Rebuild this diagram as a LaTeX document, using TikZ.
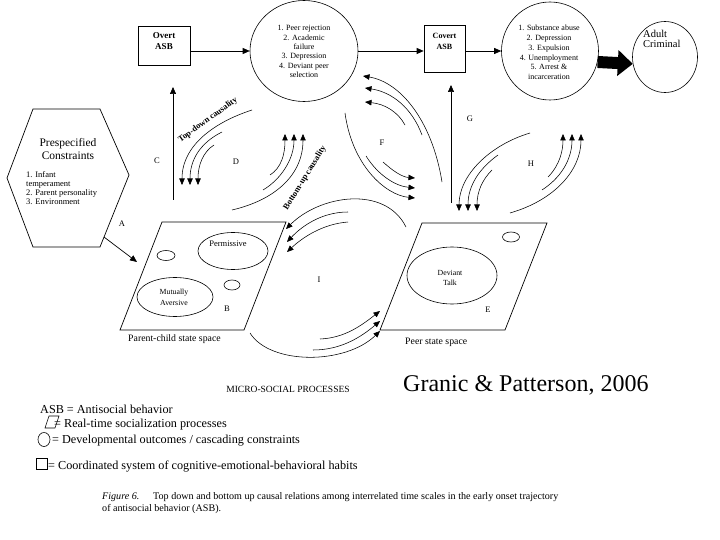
\documentclass[tikz,border=0pt]{standalone}
\usepackage{fontspec}
\setmainfont{Liberation Serif}
\usetikzlibrary{arrows.meta,shapes.geometric}
\begin{document}
\begin{tikzpicture}[x=1pt,y=-1pt,
  conn/.style={line width=0.7pt,-{Triangle[length=7pt,width=6pt]}},
  arcar/.style={line width=0.55pt,-{Triangle[length=6.5pt,width=5.5pt]}},
  boxn/.style={draw,line width=0.7pt,inner sep=0pt},
  oval/.style={draw,ellipse,line width=0.6pt,inner sep=0pt},
  txt/.style={inner sep=0pt,align=center},
  lbl/.style={inner sep=0pt,font=\fontsize{8.5}{10}\selectfont},
  legend/.style={inner sep=0pt,anchor=base west,font=\fontsize{12.2}{14}\selectfont},
  capt/.style={inner sep=0pt,anchor=base west,font=\fontsize{10.1}{12}\selectfont},
  causal/.style={inner sep=0pt,font=\bfseries\fontsize{8.5}{9}\selectfont},
  shapeline/.style={line width=0.7pt}
]
\useasboundingbox[fill=white] (0,0) rectangle (720,540);

% ---- top row
\node[boxn,minimum width=52pt,minimum height=39pt] (overt) at (164,45.5) {};
\node[txt,font=\bfseries\fontsize{9}{11}\selectfont] (overtT) at (164,41) {Overt\\ASB};
\node[boxn,minimum width=41pt,minimum height=47pt] (covert) at (444.5,48.5) {};
\node[txt,font=\bfseries\fontsize{8}{10.5}\selectfont] (covertT) at (444.5,41.5) {Covert\\ASB};
\node[oval,minimum width=108pt,minimum height=101pt] (c1) at (304,51) {};
\node[txt,font=\fontsize{8}{9.4}\selectfont] (c1T) at (304,51.5) {1. Peer rejection\\2. Academic\\failure\\3. Depression\\4. Deviant peer\\selection};
\node[oval,minimum width=97pt,minimum height=98pt] (c2) at (550,51) {};
\node[txt,font=\fontsize{8}{9.8}\selectfont] (c2T) at (549,52.5) {1. Substance abuse\\2. Depression\\3. Expulsion\\4. Unemployment\\5. Arrest \&\\incarceration};
\node[oval,minimum width=65pt,minimum height=71pt] (adult) at (665,57) {};
\node[inner sep=0pt,align=left,anchor=north west,font=\fontsize{10.5}{10.5}\selectfont] (adultT) at (643,30) {Adult\\Criminal};

\draw[conn] (overt.east |- c1.west) -- (c1.west);
\draw[conn] (c1.east) -- (covert.west |- c1.east);
\draw[conn] (covert.east |- c2.west) -- (c2.west);
\draw[line width=12pt,-{Triangle[length=15pt,width=25pt]}] (c2.-13) -- (adult.192);

% ---- vertical arrows
\path (173,200) coordinate (cb) (173,87) coordinate (ct)
      (451,203) coordinate (gb) (451,85) coordinate (gt);
\draw[conn] (cb) -- (ct);
\draw[conn] (gb) -- (gt);

% ---- hexagon
\draw[shapeline] (33,109) -- (100,109) -- (129,175) -- (100,247) -- (33,247) -- (7,178) -- cycle;
\node[txt,font=\fontsize{11.5}{12.5}\selectfont] (hexT) at (68,149) {Prespecified\\Constraints};
\node[inner sep=0pt,align=left,anchor=north west,font=\fontsize{8.5}{9}\selectfont] (hexL) at (26,171) {1. Infant\\temperament\\2. Parent personality\\3. Environment};
\path (104,237) coordinate (hA) (137,262) coordinate (pA);
\draw[conn] (hA) -- (pA);

% ---- state spaces
\draw[shapeline] (162,222) -- (286,222) -- (244,330) -- (120,330) -- cycle;
\draw[shapeline] (422,223) -- (547,223) -- (505,330) -- (380,330) -- cycle;
\node[oval,minimum width=70pt,minimum height=37pt] (perm) at (233,251) {};
\node[txt,font=\fontsize{8.5}{9}\selectfont] (permT) at (228,244) {Permissive};
\node[oval,minimum width=76pt,minimum height=39pt] (mut) at (175,297) {};
\node[txt,font=\fontsize{7.8}{10.5}\selectfont] (mutT) at (174,297.5) {Mutually\\Aversive};
\node[oval,minimum width=18pt,minimum height=10pt] (s1) at (166,255.5) {};
\node[oval,minimum width=16pt,minimum height=10pt] (s2) at (232,285) {};
\node[oval,minimum width=90pt,minimum height=57pt] (dev) at (452,275.5) {};
\node[txt,font=\fontsize{7.8}{10}\selectfont] (devT) at (450,278) {Deviant\\Talk};
\node[oval,minimum width=17pt,minimum height=10pt] (s3) at (511,237) {};
\node[inner sep=0pt,anchor=base west,font=\fontsize{9.8}{10}\selectfont] (pcs) at (128,341) {Parent-child state space};
\node[inner sep=0pt,anchor=base west,font=\fontsize{9.8}{10}\selectfont] (pss) at (405,344) {Peer state space};

% ---- letter labels
\node[lbl] (lA) at (122,224) {A};
\node[lbl] (lB) at (227,309) {B};
\node[lbl] (lC) at (157,161) {C};
\node[lbl] (lD) at (236,162) {D};
\node[lbl] (lE) at (488,310) {E};
\node[lbl] (lF) at (382,143) {F};
\node[lbl] (lG) at (470,119) {G};
\node[lbl] (lH) at (531,164) {H};
\node[lbl] (lI) at (319,280) {I};

% ---- causal arc bundles
% top-down
\path (252,110) coordinate (td1s) (182,185) coordinate (td1e)
      (222,132) coordinate (td2s) (190,185) coordinate (td2e)
      (214,145) coordinate (td3s) (198,185) coordinate (td3e);
\draw[arcar] (td1s) .. controls (215,122) and (182,145) .. (td1e);
\draw[arcar] (td2s) .. controls (200,143) and (190,160) .. (td2e);
\draw[arcar] (td3s) .. controls (203,152) and (198,165) .. (td3e);
\node[causal,rotate=36] (tdT) at (208,120) {Top-down causality};
% bottom-up
\path (232,210) coordinate (bu1s) (303,134) coordinate (bu1e)
      (263,190) coordinate (bu2s) (294,134) coordinate (bu2e)
      (270,175) coordinate (bu3s) (285,134) coordinate (bu3e);
\draw[arcar] (bu1s) .. controls (275,200) and (303,175) .. (bu1e);
\draw[arcar] (bu2s) .. controls (280,180) and (294,160) .. (bu2e);
\draw[arcar] (bu3s) .. controls (281,168) and (285,155) .. (bu3e);
\node[causal,rotate=58] (buT) at (305,178) {Bottom-up causality};
% F down
\path (345,113) coordinate (fd1s) (415,198) coordinate (fd1e)
      (366,156) coordinate (fd2s) (415,188) coordinate (fd2e)
      (383,162) coordinate (fd3s) (415,178) coordinate (fd3e);
\draw[arcar] (fd1s) .. controls (352,165) and (385,195) .. (fd1e);
\draw[arcar] (fd2s) .. controls (378,175) and (395,186) .. (fd2e);
\draw[arcar] (fd3s) .. controls (393,171) and (402,177) .. (fd3e);
% F up
\path (442,182) coordinate (fu1s) (363,76) coordinate (fu1e)
      (422,135) coordinate (fu2s) (365,88) coordinate (fu2e)
      (405,125) coordinate (fu3s) (365,102) coordinate (fu3e);
\draw[arcar] (fu1s) .. controls (432,120) and (400,82) .. (fu1e);
\draw[arcar] (fu2s) .. controls (412,108) and (392,92) .. (fu2e);
\draw[arcar] (fu3s) .. controls (398,112) and (385,104) .. (fu3e);
% G down
\path (530,133) coordinate (gd1s) (459,211) coordinate (gd1e)
      (498,155) coordinate (gd2s) (468,211) coordinate (gd2e)
      (492,170) coordinate (gd3s) (477,211) coordinate (gd3e);
\draw[arcar] (gd1s) .. controls (490,145) and (459,175) .. (gd1e);
\draw[arcar] (gd2s) .. controls (480,168) and (468,185) .. (gd2e);
\draw[arcar] (gd3s) .. controls (482,180) and (477,192) .. (gd3e);
% H up
\path (510,213) coordinate (hu1s) (581,134) coordinate (hu1e)
      (542,190) coordinate (hu2s) (572,134) coordinate (hu2e)
      (548,177) coordinate (hu3s) (563,134) coordinate (hu3e);
\draw[arcar] (hu1s) .. controls (555,200) and (581,170) .. (hu1e);
\draw[arcar] (hu2s) .. controls (565,175) and (572,155) .. (hu2e);
\draw[arcar] (hu3s) .. controls (560,165) and (563,150) .. (hu3e);
% I top
\path (406,227) coordinate (it1s) (286,229) coordinate (it1e)
      (348,212) coordinate (it2s) (287,242) coordinate (it2e)
      (348,222) coordinate (it3s) (287,252) coordinate (it3e);
\draw[arcar] (it1s) .. controls (385,185) and (320,195) .. (it1e);
\draw[arcar] (it2s) .. controls (320,212) and (300,228) .. (it2e);
\draw[arcar] (it3s) .. controls (322,224) and (302,238) .. (it3e);
% I bottom
\path (250,333) coordinate (ib1s) (380,331) coordinate (ib1e)
      (313,350) coordinate (ib2s) (380,321) coordinate (ib2e)
      (320,339) coordinate (ib3s) (380,311) coordinate (ib3e);
\draw[arcar] (ib1s) .. controls (270,365) and (345,365) .. (ib1e);
\draw[arcar] (ib2s) .. controls (340,350) and (360,338) .. (ib2e);
\draw[arcar] (ib3s) .. controls (345,338) and (362,325) .. (ib3e);

% ---- titles
\node[inner sep=0pt,font=\fontsize{9.5}{10}\selectfont] (micro) at (288,389) {MICRO-SOCIAL PROCESSES};
\node[inner sep=0pt,anchor=base west,font=\fontsize{24}{28}\selectfont] (cite) at (403,391) {Granic \& Patterson, 2006};

% ---- legend
\node[legend] (lg1) at (40,413) {ASB = Antisocial behavior};
\draw[line width=0.6pt] (49,416) -- (59,416) -- (55,428) -- (45,428) -- cycle;
\node[legend] (lg2) at (54,427) {= Real-time socialization processes};
\draw[line width=0.6pt] (44,439.5) ellipse [x radius=6, y radius=7];
\node[legend] (lg3) at (52,443) {= Developmental outcomes / cascading constraints};
\draw[line width=0.6pt] (36,458) rectangle (47,469);
\node[legend] (lg4) at (48,469) {= Coordinated system of cognitive-emotional-behavioral habits};

% ---- caption
\node[capt] (figl) at (102,499) {\textit{Figure 6.}};
\node[capt] (cap1) at (153,499) {Top down and bottom up causal relations among interrelated time scales in the early onset trajectory};
\node[capt] (cap2) at (102,511) {of antisocial behavior (ASB).};
\end{tikzpicture}
\end{document}
